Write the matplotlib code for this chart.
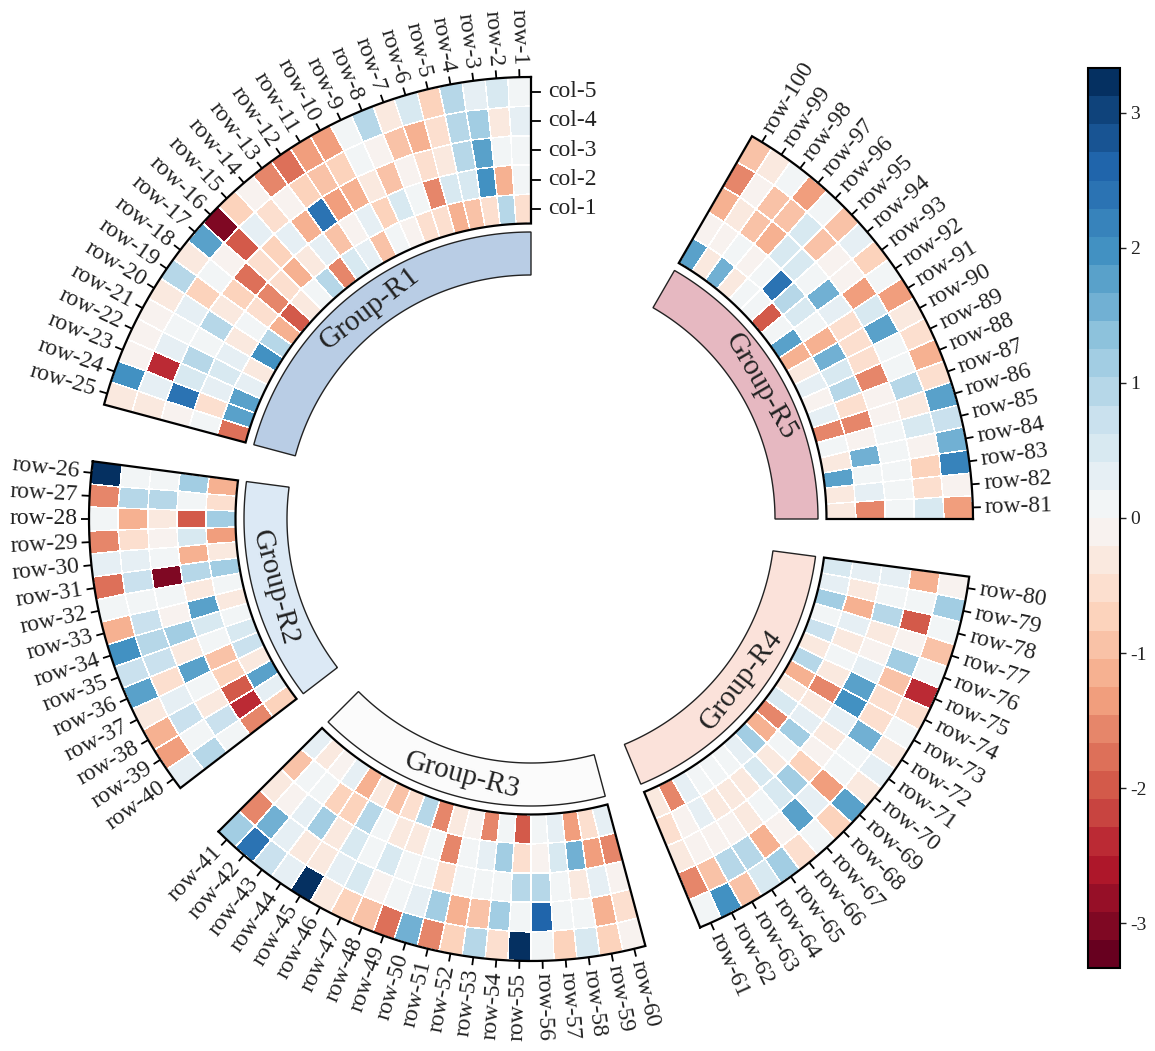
import numpy as np
import matplotlib.pyplot as plt
from matplotlib.colors import BoundaryNorm
from matplotlib.cm import ScalarMappable

plt.rcParams['font.family'] = ['Liberation Serif', 'DejaVu Serif']
plt.rcParams['axes.unicode_minus'] = False

# ---- data: one list per row, values for [col-1 .. col-5] (col-1 is the inner ring)
group_names = ['Group-R1', 'Group-R2', 'Group-R3', 'Group-R4', 'Group-R5']
group_colors = ['#b9cde5', '#dce9f5', '#fbfbfb', '#fbe2da', '#e6b8c1']
col_labels = ['col-1', 'col-2', 'col-3', 'col-4', 'col-5']

group_r1 = [  # row-1 .. row-25
    [-0.6, 0.2, 0.1, 0.4, 0.05], [1.0, -1.1, 0.05, -0.3, 0.6],
    [-0.6, 2.0, 1.7, 1.2, 0.4], [-0.9, 0.5, 0.9, 1.0, 1.0],
    [-1.1, 0.6, -0.35, -0.5, -0.65], [-0.5, -1.5, -0.6, -1.05, 0.5],
    [-0.45, 0.1, -0.1, -0.85, -0.35], [-0.1, 0.5, -0.9, -0.1, 1.0],
    [0.1, -0.8, -0.35, 0.05, 0.1], [-0.85, 0.35, -1.1, -0.8, -1.25],
    [0.35, -0.2, -1.3, -0.9, -1.3], [0.5, -1.0, 2.4, -0.7, -1.7],
    [-1.5, 0.4, -1.2, -0.2, -1.5], [0.9, -0.4, 0.35, -0.6, -0.15],
    [0.05, -1.2, -0.7, 0.3, -0.7], [-0.3, -0.6, -0.5, -1.9, -3.0],
    [-1.9, -1.5, -1.7, -0.1, 1.8], [-1.1, -0.5, -0.8, 0.1, -0.3],
    [1.0, 0.05, -0.3, -0.7, 1.0], [2.0, -0.3, 0.9, 0.4, -0.25],
    [-0.3, 0.3, 0.2, 0.1, -0.1], [0.3, 0.6, 1.0, 0.4, -0.1],
    [1.8, 0.3, 0.5, -2.4, -0.1], [1.7, -0.6, 2.3, 0.35, 2.0],
    [-1.7, 0.15, -0.1, -0.3, -0.3],
]
group_r2 = [  # row-26 .. row-40
    [-1.1, 1.2, 0.1, 0.1, 3.2], [-0.55, 0.05, 0.85, 0.9, -1.6],
    [1.2, -2.0, -0.35, -1.1, 0.2], [-1.3, 0.6, -0.1, -0.55, -1.5],
    [-0.35, -1.1, 0.2, 0.35, 0.35], [1.2, 0.9, -3.0, 0.8, -1.7],
    [0.05, -0.3, 0.05, 0.05, 0.05], [-0.3, 1.7, -0.1, 0.8, -1.1],
    [0.2, 0.6, 1.2, 0.9, 2.0], [0.6, 0.05, -0.3, 0.8, 0.8],
    [0.7, -1.0, 1.8, -0.55, 1.7], [-0.4, -0.7, 0.2, 0.35, -0.35],
    [1.8, -1.9, -0.35, 0.8, -1.1], [0.35, -2.4, 0.8, 0.2, -1.3],
    [-0.7, -1.5, 0.05, 1.0, 0.35],
]
group_r3 = [  # row-41 .. row-60
    [0.4, -0.85, -0.3, -1.5, 1.2], [-0.35, 0.15, -0.1, 1.5, 2.3],
    [-0.1, 0.15, 0.35, 0.35, 0.8], [0.35, -0.65, 1.2, -0.35, 0.35],
    [-1.1, -0.8, -0.35, -0.3, 3.3], [-0.35, 1.0, 0.6, 0.35, -0.25],
    [-1.0, 0.05, 0.05, 0.5, -0.8], [-0.55, -0.35, 0.55, -0.1, -0.85],
    [0.9, -0.3, 0.05, 0.15, -1.7], [-1.5, 0.2, 0.05, 0.3, 1.5],
    [-0.4, -1.6, -0.6, 1.1, -1.5], [-0.1, 0.15, 0.15, -1.1, -0.8],
    [-1.5, 0.3, 0.15, -0.85, 1.0], [0.15, 1.2, 0.15, 1.2, -0.5],
    [-1.9, -0.45, 1.0, 0.05, 3.3], [0.05, -0.1, 0.9, 2.7, 0.05],
    [0.35, 0.6, 0.15, 0.15, -0.65], [-1.25, 1.5, -0.35, 0.05, 0.6],
    [-0.45, -1.3, 0.35, -1.1, -0.8], [0.35, -1.6, -0.1, -0.6, -0.1],
]
group_r4 = [  # row-61 .. row-80
    [-0.25, -0.5, -0.25, -1.5, 0.05], [-1.6, -0.1, -0.1, -1.0, 2.0],
    [0.4, 0.35, -0.1, 1.0, -1.0], [0.15, -0.35, -0.1, 1.0, 0.6],
    [0.15, -0.35, -0.35, -1.1, 1.2], [0.15, -0.35, 0.15, -0.1, -0.6],
    [0.35, 0.6, 0.6, 1.7, 0.05], [1.2, -0.35, 1.2, 0.35, -0.8],
    [-1.1, 0.05, -0.65, -1.3, 1.7], [-1.6, 1.2, -0.1, 0.1, -0.35],
    [0.55, 0.3, -0.3, 0.1, 0.3], [-0.35, -0.3, 0.35, 1.5, -0.35],
    [-1.1, -1.6, 2.0, -0.55, 0.15], [0.9, -0.35, 1.7, -0.55, -0.6],
    [-0.35, 0.05, 0.3, -0.85, -2.4], [0.8, -0.35, -0.1, 1.2, 0.05],
    [0.15, 0.3, -0.35, -0.1, -0.85], [1.2, -1.1, 1.0, -2.0, 0.05],
    [0.4, -0.35, 0.05, 0.05, 1.2], [0.55, 0.35, 0.4, -1.1, -0.1],
]
group_r5 = [  # row-81 .. row-100
    [-0.35, -1.5, 0.05, 0.6, -1.25], [-0.35, 0.3, 0.15, -0.45, -0.1],
    [1.7, 0.05, 0.1, -0.8, 2.2], [-0.3, 1.5, 0.15, -0.05, 1.5],
    [0.1, -0.1, 0.1, 0.6, 0.8], [-1.6, -1.6, -0.1, -0.25, 1.7],
    [0.35, -0.5, -0.1, 1.0, -0.5], [-0.1, 1.0, -1.6, 0.05, -1.1],
    [0.35, 0.6, -0.5, 0.05, -0.5], [-0.35, 1.5, -0.6, 1.8, -0.3],
    [-1.1, -1.1, -0.6, 0.6, -1.4], [1.8, 0.05, 0.35, -1.3, 0.05],
    [0.05, 0.6, 1.5, -0.1, -0.8], [-1.9, 1.0, 0.05, -0.1, 0.3],
    [0.15, 2.3, 0.6, -0.85, -1.0], [0.05, 0.15, 0.6, 0.6, 0.15],
    [-0.35, -0.1, -1.1, -0.85, -1.3], [1.5, 0.15, -0.85, -0.85, 0.15],
    [-0.35, -0.1, -0.35, -0.1, -0.3], [1.7, -0.1, -1.1, -1.6, -0.85],
]
groups = [group_r1, group_r2, group_r3, group_r4, group_r5]
gap_after = [7.5, 7.5, 7.5, 7.5, 30]  # degrees between sectors
cbar_ticks = [-3, -2, -1, 0, 1, 2, 3]

# ---- layout (pixel radii of the polar axes)
r_in, r_out = 295.5, 442
band_in, band_out = 244, 287
deg_per_row = 3.0
vmax = 3.33

cmap = plt.get_cmap('RdBu')
norm = BoundaryNorm(np.linspace(-vmax, vmax, 33), cmap.N)

fig = plt.figure(figsize=(11.55, 10.51), dpi=100)
ax = fig.add_axes([11 / 1155, 12 / 1051, 1040 / 1155, 1040 / 1051], projection='polar')
ax.set_axis_off()

r_edges = np.linspace(r_in, r_out, 6)
start = 90.0
row_no = 1
for name, mat, color, gap in zip(group_names, groups, group_colors, gap_after):
    vals = np.array(mat).T
    n = vals.shape[1]
    th_edges = np.deg2rad(start + deg_per_row * np.arange(n + 1))
    ax.pcolormesh(th_edges, r_edges, vals, cmap=cmap, norm=norm,
                  edgecolors='white', linewidth=0.35)

    t = np.linspace(th_edges[0], th_edges[-1], 200)
    bt = np.concatenate([t, t[::-1], t[:1]])
    ax.plot(bt, np.concatenate([np.full(200, r_out), np.full(200, r_in), [r_out]]),
            color='black', lw=1.6, solid_joinstyle='miter')

    # group band
    ax.fill(bt, np.concatenate([np.full(200, band_out), np.full(200, band_in), [band_out]]),
            facecolor=color, edgecolor='#222222', lw=1.0)
    mid = start + deg_per_row * n / 2
    rot = (mid - 90) % 360
    if rot > 180:
        rot -= 360
    if rot > 90:
        rot -= 180
    elif rot < -90:
        rot += 180
    ax.text(np.deg2rad(mid), (band_in + band_out) / 2, name, rotation=rot,
            rotation_mode='anchor', ha='center', va='center', fontsize=21, color='#222222')

    # row ticks and labels
    centers = start + deg_per_row * (np.arange(n) + 0.5)
    ax.vlines(np.deg2rad(centers), r_out, r_out + 8, color='black', lw=1.3)
    for c in centers:
        d = c % 360
        if np.cos(np.deg2rad(d)) >= 0:
            rot, ha = (d if d <= 180 else d - 360), 'left'
        else:
            rot, ha = d - 180, 'right'
        ax.text(np.deg2rad(c), r_out + 12, f'row-{row_no}', rotation=rot,
                rotation_mode='anchor', ha=ha, va='center', fontsize=17, color='#222222')
        row_no += 1
    start += deg_per_row * n + gap

# column labels on the right side of the first sector
for j, lab in enumerate(col_labels):
    rc = (r_edges[j] + r_edges[j + 1]) / 2
    ax.plot([np.pi / 2, np.arctan2(rc, 9)], [rc, np.hypot(9, rc)], color='black', lw=1.3)
    ax.text(np.arctan2(rc, 17), np.hypot(17, rc), lab, ha='left', va='center',
            fontsize=17, color='#222222')

ax.set_ylim(0, 520)

# colour bar
cax = fig.add_axes([1088 / 1155, 83 / 1051, 32 / 1155, 900 / 1051])
cb = fig.colorbar(ScalarMappable(norm=norm, cmap=cmap), cax=cax, ticks=cbar_ticks)
cb.minorticks_off()
cb.outline.set_linewidth(1.5)
cax.tick_params(labelsize=14, length=4, width=1, colors='#222222')

fig.savefig('out.png', dpi=100)
